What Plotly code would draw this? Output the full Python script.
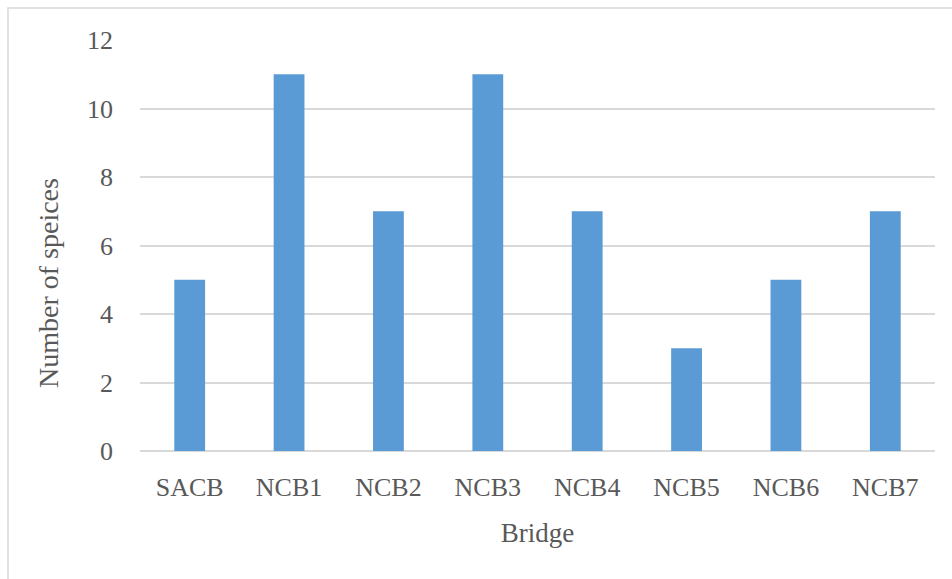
import plotly.graph_objects as go

bridges = ["SACB", "NCB1", "NCB2", "NCB3", "NCB4", "NCB5", "NCB6", "NCB7"]
species = [5, 11, 7, 11, 7, 3, 5, 7]
y_ticks = [0, 2, 4, 6, 8, 10, 12]

L, R, T, B = 140, 17, 40, 128
W, H = 952, 579
pw, ph = W - L - R, H - T - B

font_family = "Palatino Linotype, Book Antiqua, Liberation Serif, serif"
txt = "#595959"

fig = go.Figure(go.Bar(x=bridges, y=species, marker=dict(color="#5B9BD5", line=dict(width=0))))

fig.update_layout(
    width=W, height=H,
    margin=dict(l=L, r=R, t=T, b=B),
    plot_bgcolor="white", paper_bgcolor="white",
    bargap=0.69,
    font=dict(family=font_family, size=26, color=txt),
    showlegend=False,
    xaxis=dict(
        title=dict(text="Bridge", standoff=22, font=dict(size=27, color=txt)),
        showgrid=False, showline=False, zeroline=False,
        ticks="", ticklabelstandoff=18,
        tickfont=dict(size=26, color=txt),
    ),
    yaxis=dict(
        range=[0, 12], tickvals=y_ticks,
        showgrid=True, gridcolor="#D9D9D9", gridwidth=1.5,
        zeroline=True, zerolinecolor="#D9D9D9", zerolinewidth=1.5,
        showline=False, ticks="", ticklabelstandoff=26,
        tickfont=dict(size=26, color=txt),
    ),
    annotations=[dict(
        text="Number of speices", textangle=-90,
        xref="paper", yref="paper",
        x=(48 - L) / pw, y=(T + ph - 283) / ph,
        xanchor="center", yanchor="middle", showarrow=False,
        font=dict(size=28, color=txt, family=font_family),
    )],
    shapes=[dict(
        type="rect", xref="paper", yref="paper",
        x0=(8 - L) / pw, x1=(W + 10 - L) / pw,
        y0=(T + ph - (H + 10)) / ph, y1=(T + ph - 8) / ph,
        line=dict(color="#D9D9D9", width=1.5), fillcolor="rgba(0,0,0,0)", layer="below",
    )],
)

fig.write_html("out.html")
